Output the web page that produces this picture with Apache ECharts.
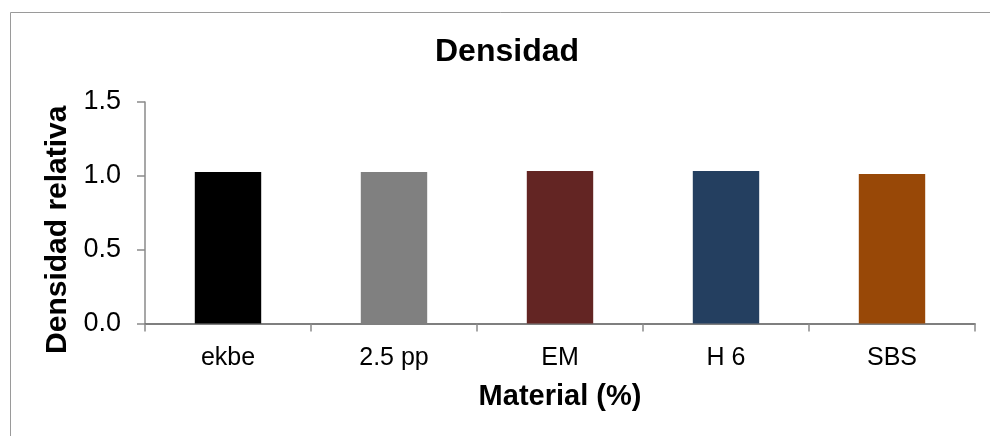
<!DOCTYPE html>
<html>
<head>
<meta charset="utf-8">
<script src="https://cdn.jsdelivr.net/npm/echarts@6/dist/echarts.min.js"></script>
<style>
  html, body { margin: 0; padding: 0; background: #fff; }
  #chart { width: 990px; height: 436px; }
</style>
</head>
<body>
<div id="chart"></div>
<script>
// Relative density per material
const categories = ['ekbe', '2.5 pp', 'EM', 'H 6', 'SBS'];
const densities = [1.026, 1.026, 1.033, 1.033, 1.012];
const barColors = ['#000000', '#808080', '#632523', '#243F60', '#984807'];
const yTicks = { min: 0, max: 1.5, interval: 0.5 };

const FONT = '"Liberation Sans", Arial, sans-serif';

const chart = echarts.init(document.getElementById('chart'), null, { renderer: 'canvas' });

chart.setOption({
  animation: false,
  backgroundColor: '#ffffff',
  title: {
    text: 'Densidad',
    left: 507,
    textAlign: 'center',
    top: 36,
    padding: 0,
    textStyle: { fontFamily: FONT, fontSize: 32, fontWeight: 'bold', color: '#000' }
  },
  graphic: [{
    type: 'rect',
    shape: { x: 10.5, y: 12.5, width: 1200, height: 800 },
    style: { fill: 'none', stroke: '#9a9a9a', lineWidth: 1 },
    silent: true
  }],
  grid: { left: 145, right: 15, top: 102, bottom: 112.5, containLabel: false },
  xAxis: {
    type: 'category',
    data: categories,
    boundaryGap: true,
    name: 'Material (%)',
    nameLocation: 'middle',
    nameGap: 59,
    nameTextStyle: { fontFamily: FONT, fontSize: 29, fontWeight: 'bold', color: '#000' },
    axisLine: { show: true, lineStyle: { color: '#555555', width: 1.5 } },
    axisTick: { show: true, length: 8, alignWithLabel: false, lineStyle: { color: '#8a8a8a', width: 1.5 } },
    axisLabel: { margin: 22, fontFamily: FONT, fontSize: 25, color: '#000' },
    splitLine: { show: false }
  },
  yAxis: {
    type: 'value',
    min: yTicks.min,
    max: yTicks.max,
    interval: yTicks.interval,
    name: 'Densidad relativa',
    nameLocation: 'middle',
    nameGap: 66,
    nameRotate: 90,
    nameTextStyle: { fontFamily: FONT, fontSize: 30, fontWeight: 'bold', color: '#000', padding: [0, 34, 0, 0] },
    axisLine: { show: true, lineStyle: { color: '#8a8a8a', width: 1.5 } },
    axisTick: { show: true, length: 8, lineStyle: { color: '#8a8a8a', width: 1.5 } },
    axisLabel: {
      margin: 24, fontFamily: FONT, fontSize: 27, color: '#000',
      formatter: v => v.toFixed(1)
    },
    splitLine: { show: false }
  },
  series: [{
    type: 'bar',
    barCategoryGap: '60%',
    data: densities.map((v, i) => ({ value: v, itemStyle: { color: barColors[i] } })),
    label: { show: false }
  }]
});
</script>
</body>
</html>
